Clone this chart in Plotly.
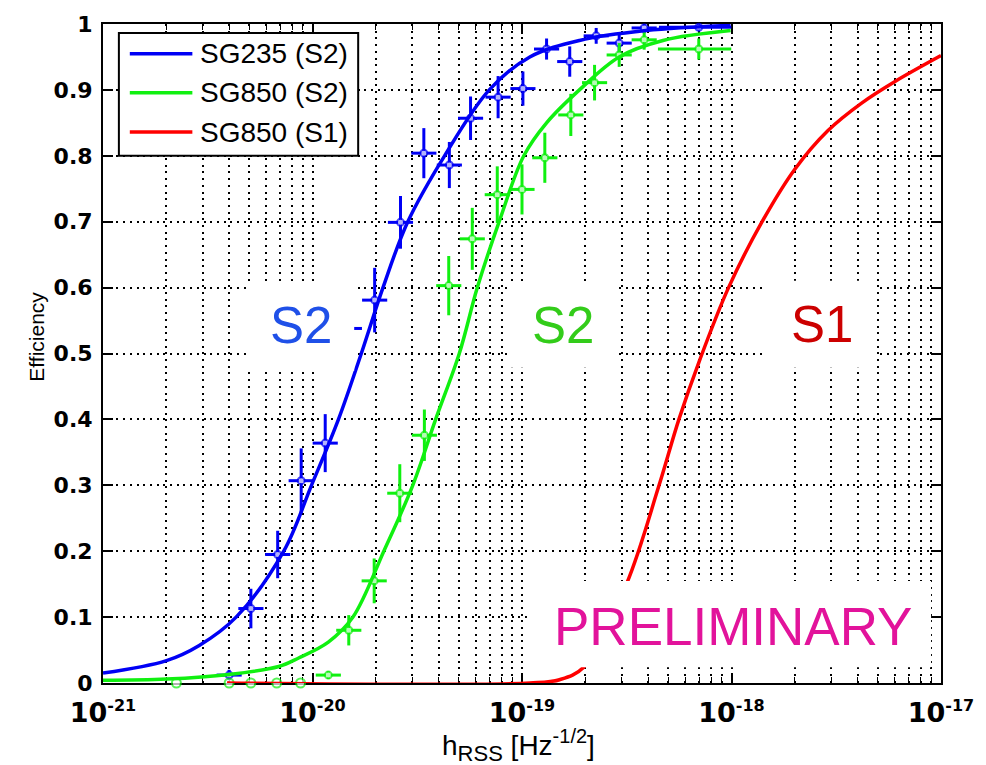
import plotly.graph_objects as go

# ------------------------------------------------------------------ data
# fitted efficiency curves (hrss [Hz^-1/2], efficiency)
blue_curve_h = [1.0e-21, 2.01e-21, 2.88e-21, 4.32e-21, 7.29e-21, 9.89e-21, 1.33e-20,
                1.71e-20, 2.17e-20, 2.85e-20, 4.27e-20, 6.98e-20, 1.09e-19, 1.88e-19,
                3.91e-19, 9.9e-19]
blue_curve_eff = [0.015, 0.034, 0.057, 0.10, 0.20, 0.30, 0.40,
                  0.50, 0.60, 0.70, 0.80, 0.90, 0.95, 0.975,
                  0.99, 0.998]

green_curve_h = [1.0e-21, 2.01e-21, 4.0e-21, 6.90e-21, 8.59e-21, 1.19e-20, 1.56e-20,
                 2.19e-20, 3.01e-20, 3.87e-20, 5.02e-20, 6.12e-20, 7.78e-20, 1.02e-19,
                 1.31e-19, 1.88e-19, 2.91e-19, 4.71e-19, 9.9e-19]
green_curve_eff = [0.004, 0.006, 0.013, 0.025, 0.038, 0.062, 0.10,
                   0.20, 0.30, 0.40, 0.50, 0.60, 0.70, 0.80,
                   0.85, 0.90, 0.95, 0.975, 0.99]

red_curve_h = [3.91e-21, 1.09e-19, 1.51e-19, 1.97e-19, 3.15e-19, 4.51e-19, 5.61e-19,
               7.05e-19, 9.68e-19, 1.40e-18, 2.01e-18, 2.88e-18, 4.18e-18, 5.98e-18, 1.0e-17]
red_curve_eff = [0.0, 0.0, 0.005, 0.024, 0.15, 0.30, 0.40,
                 0.49, 0.60, 0.70, 0.78, 0.838, 0.88, 0.912, 0.952]

# simulation points SG235 (S2)
blue_pts_h = [4.0e-21, 5.08e-21, 6.82e-21, 8.83e-21, 1.15e-20, 1.50e-20, 1.98e-20, 2.63e-20,
              3.40e-20, 4.50e-20, 5.68e-20, 7.69e-20, 1.01e-19, 1.31e-19, 1.69e-19,
              2.26e-19, 2.91e-19, 3.83e-19, 6.98e-19]
blue_pts_eff = [0.012, 0.113, 0.195, 0.307, 0.364, 0.538, 0.581, 0.699,
                0.804, 0.786, 0.857, 0.889, 0.902, 0.962, 0.943,
                0.982, 0.971, 0.994, 0.995]
blue_pts_err = [0.008, 0.030, 0.036, 0.049, 0.044, 0.040, 0.049, 0.040,
                0.038, 0.035, 0.033, 0.032, 0.026, 0.016, 0.023,
                0.012, 0.015, 0.008, 0.005]
blue_pts_dlo = [0.06] * 18 + [0.19]     # horizontal bar extent, decades
blue_pts_dhi = [0.06] * 18 + [0.155]

# simulation points SG850 (S2)
green_pts_h = [2.24e-21, 4.0e-21, 5.08e-21, 6.75e-21, 8.77e-21, 1.19e-20, 1.49e-20, 1.97e-20,
               2.61e-20, 3.42e-20, 4.47e-20, 5.79e-20, 7.62e-20, 1.0e-19, 1.285e-19,
               1.71e-19, 2.22e-19, 2.91e-19, 3.83e-19, 6.98e-19]
green_pts_eff = [0.0, 0.0, 0.0, 0.0, 0.0, 0.012, 0.08, 0.155,
                 0.288, 0.376, 0.603, 0.674, 0.741, 0.749, 0.797,
                 0.862, 0.911, 0.953, 0.976, 0.962]
green_pts_err = [0, 0, 0, 0, 0, 0.006, 0.023, 0.034,
                 0.044, 0.039, 0.045, 0.047, 0.043, 0.038, 0.038,
                 0.032, 0.027, 0.018, 0.015, 0.016]
green_pts_dlo = [0, 0, 0, 0, 0] + [0.06] * 14 + [0.195]
green_pts_dhi = [0, 0, 0, 0, 0] + [0.06] * 14 + [0.155]

legend_names = ["SG235 (S2)", "SG850 (S2)", "SG850 (S1)"]
x_tick_exps = [-21, -20, -19, -18, -17]
y_tick_vals = [0, 0.1, 0.2, 0.3, 0.4, 0.5, 0.6, 0.7, 0.8, 0.9, 1.0]
y_tick_text = ["0", "0.1", "0.2", "0.3", "0.4", "0.5", "0.6", "0.7", "0.8", "0.9", "1"]

BLUE = "#0000F5"
GREEN = "#10F010"
RED = "#FF0000"
FONT = "Liberation Sans, Arial, sans-serif"
TICKFONT = "DejaVu Sans, sans-serif"

# ------------------------------------------------------------------ geometry
W, H = 986, 765
L, R, T, B = 103, 947, 18, 683


def px(xpix):
    return (xpix - L) / (R - L)


def py(ypix):
    return (B - ypix) / (B - T)


def xerr(h, dhi, dlo):
    plus = [v * (10 ** d - 1) for v, d in zip(h, dhi)]
    minus = [v * (1 - 10 ** (-d)) for v, d in zip(h, dlo)]
    return plus, minus


fig = go.Figure()

for h, e, err, dlo, dhi, col in [
    (blue_pts_h, blue_pts_eff, blue_pts_err, blue_pts_dlo, blue_pts_dhi, BLUE),
    (green_pts_h, green_pts_eff, green_pts_err, green_pts_dlo, green_pts_dhi, GREEN),
]:
    plus, minus = xerr(h, dhi, dlo)
    sizes = [9 if v == 0 else 7 for v in e]
    fig.add_trace(go.Scatter(
        x=h, y=e, mode="markers", showlegend=False, cliponaxis=False,
        marker=dict(symbol="circle", size=sizes, color="white", line=dict(color=col, width=2)),
        error_y=dict(type="data", array=err, color=col, thickness=3, width=0),
        error_x=dict(type="data", symmetric=False, array=plus, arrayminus=minus,
                     color=col, thickness=3, width=0),
    ))

for h, e, col, name in [
    (blue_curve_h, blue_curve_eff, BLUE, legend_names[0]),
    (green_curve_h, green_curve_eff, GREEN, legend_names[1]),
    (red_curve_h, red_curve_eff, RED, legend_names[2]),
]:
    fig.add_trace(go.Scatter(
        x=h, y=e, mode="lines", name=name, showlegend=False, cliponaxis=False,
        line=dict(color=col, width=3.5, shape="spline", smoothing=1.0),
    ))

minor_vals = [m * 10.0 ** e for e in x_tick_exps[:-1] for m in range(2, 10)]

grid_style = dict(showgrid=True, gridcolor="#000000", gridwidth=1.5, griddash="2px,4.7px")

fig.update_xaxes(
    type="log", range=[-21, -17],
    tickmode="array", tickvals=[10.0 ** e for e in x_tick_exps],
    ticktext=["10<sup><span style='font-size:16px'>%d</span></sup>" % e for e in x_tick_exps],
    ticks="inside", ticklen=10, tickwidth=1.5, tickcolor="black",
    showline=True, linecolor="black", linewidth=2, mirror="ticks",
    tickfont=dict(family=TICKFONT, size=27, color="black", weight="bold"),
    ticklabelstandoff=5,
    minor=dict(tickmode="array", tickvals=minor_vals, ticks="inside", ticklen=6,
               tickwidth=1.2, tickcolor="black", **grid_style),
    zeroline=False, layer="below traces", **grid_style,
)
fig.update_yaxes(
    range=[0, 1], tickmode="array", tickvals=y_tick_vals, ticktext=y_tick_text,
    ticks="inside", ticklen=10, tickwidth=1.5, tickcolor="black",
    showline=True, linecolor="black", linewidth=2, mirror="ticks",
    tickfont=dict(family=TICKFONT, size=22, color="black", weight="bold"),
    ticklabelstandoff=4,
    zeroline=False, layer="below traces", **grid_style,
)

shapes = []
annotations = []

# white label boxes
for x0, x1, y0, y1 in [(248, 356, 278, 368), (513, 618, 278, 365),
                       (770, 882, 277, 365), (530, 937, 580, 667)]:
    shapes.append(dict(type="rect", xref="paper", yref="paper", layer="above",
                       x0=px(x0), x1=px(x1), y0=py(y1), y1=py(y0),
                       fillcolor="white", line=dict(width=0)))

for text, cx, cy, col, size in [("S2", 302, 322, "#1F50E8", 51),
                                ("S2", 566, 322, "#33CC1A", 51),
                                ("S1", 827, 321, "#CC0000", 51),
                                ("PRELIMINARY", 738, 626, "#E2139B", 53)]:
    annotations.append(dict(text=text, xref="paper", yref="paper", x=px(cx), y=py(cy),
                            xanchor="center", yanchor="middle", showarrow=False,
                            font=dict(family=FONT, size=size, color=col)))

# legend box
shapes.append(dict(type="rect", xref="paper", yref="paper", layer="above",
                   x0=px(119), x1=px(360), y0=py(151), y1=py(27),
                   fillcolor="white", line=dict(color="black", width=2)))
for i, (name, col) in enumerate(zip(legend_names, [BLUE, GREEN, RED])):
    yy = 48 + 39.5 * i
    shapes.append(dict(type="line", xref="paper", yref="paper", layer="above",
                       x0=px(130), x1=px(193), y0=py(yy), y1=py(yy),
                       line=dict(color=col, width=3.5)))
    annotations.append(dict(text=name, xref="paper", yref="paper", x=px(199), y=py(yy),
                            xanchor="left", yanchor="middle", showarrow=False,
                            font=dict(family=FONT, size=28, color="black")))

# axis titles
annotations.append(dict(text="Efficiency", xref="paper", yref="paper", x=px(36), y=py(333),
                        xanchor="center", yanchor="middle", textangle=-90, showarrow=False,
                        font=dict(family=FONT, size=21, color="black")))
annotations.append(dict(
    text="h<sub><span style='font-size:22px'>RSS</span></sub> [Hz<sup><span style='font-size:20px'>-1/2</span></sup>]",
    xref="paper", yref="paper", x=px(521), y=py(746), xanchor="center", yanchor="middle",
    showarrow=False, font=dict(family=FONT, size=28, color="black")))

fig.update_layout(
    width=W, height=H, margin=dict(l=L, r=W - R, t=T, b=H - B),
    paper_bgcolor="white", plot_bgcolor="white",
    shapes=shapes, annotations=annotations, showlegend=False,
)

fig.write_html("out.html")
